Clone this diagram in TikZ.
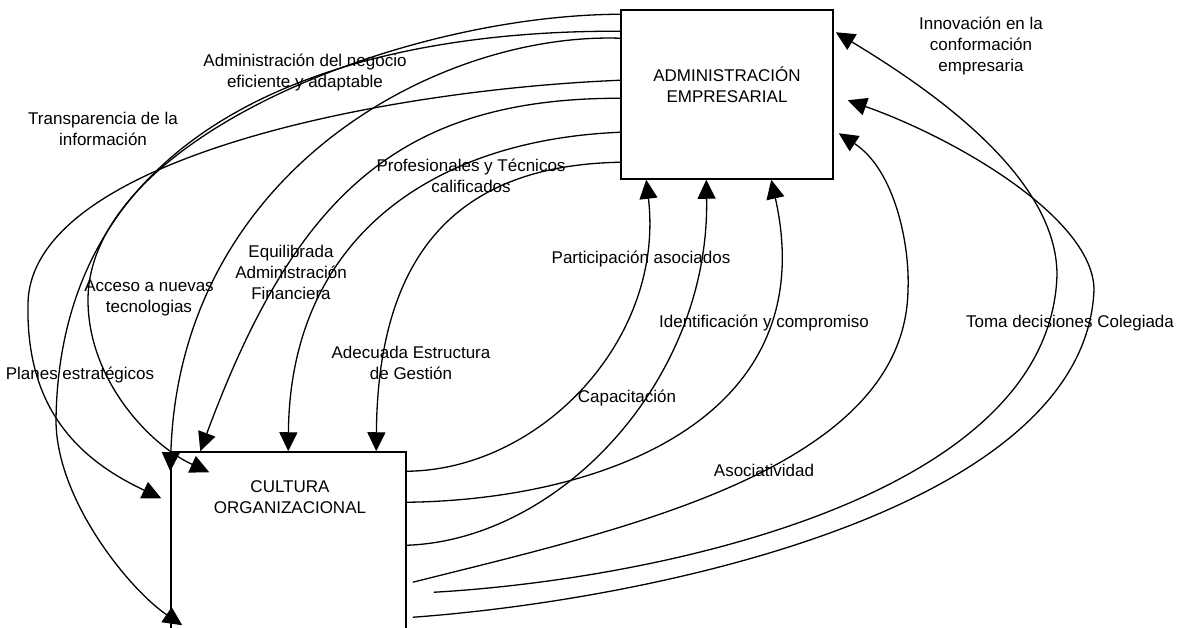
\documentclass[tikz,border=0pt]{standalone}
\usepackage{fontspec}
\setmainfont{Liberation Sans}
\usetikzlibrary{arrows.meta,positioning}

\begin{document}
\begin{tikzpicture}[
  x=1pt, y=-1pt,
  caja/.style={draw, line width=1.5pt, rectangle, inner sep=0pt},
  etiqueta/.style={font=\fontsize{17}{21}\selectfont, align=center, inner sep=0pt},
  flecha/.style={line width=1.3pt, -{Triangle[length=19pt,width=18pt]}},
]
\path[use as bounding box] (0,0) rectangle (1179,628);
\clip (0,0) rectangle (1179,628);

\node[caja, minimum width=212pt, minimum height=169pt] (adm) at (727,94.5) {};
\node[etiqueta] (admtxt) at ([yshift=-75pt]adm.north) {ADMINISTRACIÓN\\EMPRESARIAL};
\node[caja, minimum width=235pt, minimum height=230pt] (cult) at (288.5,567) {};
\node[etiqueta] (culttxt) at ([xshift=1.5pt,yshift=-45.5pt]cult.north) {CULTURA\\ORGANIZACIONAL};

\draw[flecha] ([yshift=-20pt]cult.north east) .. controls (540,470) and (665,340) .. ([xshift=26pt]adm.south west);
\draw[flecha] ([yshift=-94pt]cult.north east) .. controls (560,540) and (710,380) .. ([xshift=86pt]adm.south west);
\draw[flecha] ([yshift=-51pt]cult.north east) .. controls (600,500) and (825,420) .. ([xshift=151pt]adm.south west);
\draw[flecha] ([xshift=6pt,yshift=-131pt]cult.north east) .. controls (620,530) and (905,470) .. (908,290)
  .. controls (910,245) and (895,170) .. ([xshift=5pt,yshift=-124pt]adm.north east);
\draw[flecha] ([xshift=27pt,yshift=-141pt]cult.north east) .. controls (650,580) and (1050,500) .. (1057,275)
  .. controls (1057,180) and (940,95) .. ([xshift=2pt,yshift=-23pt]adm.north east);
\draw[flecha] ([xshift=6pt,yshift=-166pt]cult.north east) .. controls (650,600) and (1085,510) .. (1094,290)
  .. controls (1094,220) and (960,140) .. ([xshift=14pt,yshift=-91pt]adm.north east);

\draw[flecha] ([yshift=-153pt]adm.north west) .. controls (470,165) and (378,240) .. ([xshift=206pt]cult.north west);
\draw[flecha] ([yshift=-123pt]adm.north west) .. controls (430,140) and (290,240) .. ([xshift=118pt]cult.north west);
\draw[flecha] ([yshift=-89pt]adm.north west) .. controls (400,98) and (295,195) .. ([xshift=30pt]cult.north west);
\draw[flecha] ([yshift=-29pt]adm.north west) .. controls (440,32) and (180,170) .. ([yshift=-20pt]cult.north west);
\draw[flecha] ([yshift=-22pt]adm.north west) .. controls (360,30) and (60,110) .. (56,420)
  .. controls (56,500) and (130,590) .. ([xshift=12pt,yshift=-174pt]cult.north west);
\draw[flecha] ([yshift=-5pt]adm.north west) .. controls (400,15) and (88,140) .. (88,300)
  .. controls (88,380) and (150,445) .. ([xshift=39pt,yshift=-21pt]cult.north west);
\draw[flecha] ([yshift=-71pt]adm.north west) .. controls (380,90) and (28,160) .. (28,305)
  .. controls (26,410) and (80,460) .. ([xshift=-9pt,yshift=-47pt]cult.north west);

\node[etiqueta] (negocio) at (305,72.5) {Administración del negocio\\eficiente y adaptable};
\node[etiqueta] (transp) at (103,129) {Transparencia de la\\información};
\node[etiqueta] (profes) at (471,175.5) {Profesionales y Técnicos\\calificados};
\node[etiqueta] (equil) at (291,272) {Equilibrada\\Administración\\Financiera};
\node[etiqueta] (acceso) at (149,297.5) {Acceso a nuevas\\tecnologias};
\node[etiqueta] (planes) at (80,375) {Planes estratégicos};
\node[etiqueta] (adecuada) at (411,363) {Adecuada Estructura\\de Gestión};
\node[etiqueta] (particip) at (641,259) {Participación asociados};
\node[etiqueta] (identif) at (764,323) {Identificación y compromiso};
\node[etiqueta] (capacit) at (627,398) {Capacitación};
\node[etiqueta] (asoc) at (764,470) {Asociatividad};
\node[etiqueta] (toma) at (1070,323) {Toma decisiones Colegiada};
\node[etiqueta] (innov) at (981,46) {Innovación en la\\conformación\\empresaria};

\end{tikzpicture}
\end{document}
